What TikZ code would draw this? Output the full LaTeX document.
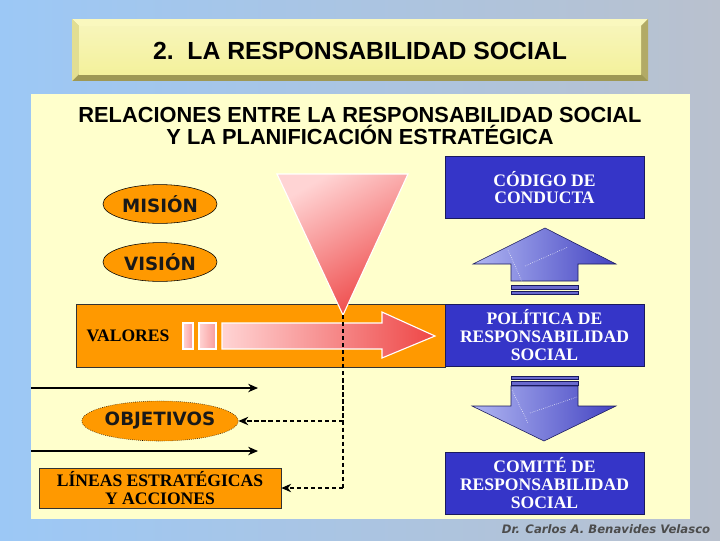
\documentclass[tikz,border=0pt]{standalone}
\usepackage{fontspec}
\setmainfont{Liberation Serif}
\setsansfont{DejaVu Sans}
\newfontfamily\headfont{Liberation Sans}
\usetikzlibrary{shapes.geometric,arrows.meta,positioning}

\definecolor{bgleft}{HTML}{9CC8F6}
\definecolor{bgright}{HTML}{B9C1CE}
\definecolor{panel}{HTML}{FFFFCC}
\definecolor{face}{HTML}{F4F19C}
\definecolor{bevlight}{HTML}{FAF8BE}
\definecolor{bevleft}{HTML}{E2DE92}
\definecolor{bevdark}{HTML}{9E9855}
\definecolor{bevright}{HTML}{B2AA66}
\definecolor{naranja}{HTML}{FF9900}
\definecolor{azul}{HTML}{3535C8}
\definecolor{azulosc}{HTML}{1A1A5E}
\definecolor{rosa}{HTML}{FFD4D4}
\definecolor{rojo}{HTML}{EE4646}
\definecolor{flechaclara}{HTML}{B0B6F2}
\definecolor{flechaosc}{HTML}{4444C2}

\tikzset{
  oval/.style={draw=black, fill=naranja, ellipse, minimum width=2.85cm, minimum height=0.97cm,
    inner sep=0pt, text=black!90, font=\sffamily\bfseries\fontsize{13}{13}\selectfont},
  bluebox/.style={draw=azulosc, fill=azul, minimum width=4.975cm, minimum height=1.56cm,
    align=center, text=white, font=\bfseries\fontsize{12.5}{12.5}\selectfont},
  orangebox/.style={draw=black!80, fill=naranja, align=center, inner sep=0pt,
    font=\bfseries\fontsize{12.5}{12.5}\selectfont},
  flowarrow/.style={thick, -{Stealth[length=7pt,width=6pt]}},
  dashline/.style={thick, dashed, dash pattern=on 3pt off 2pt},
  bluearrow/.style={left color=flechaclara, right color=flechaosc, draw=azulosc, thin},
  stripe/.style={fill=flechaosc!80, draw=azulosc, thin},
  glare/.style={white, densely dotted, thin}
}

\begin{document}
\begin{tikzpicture}[x=0.025cm, y=-0.025cm]

  % fondo y panel
  \shade[left color=bgleft, right color=bgright] (0,0) rectangle (720,540);
  \useasboundingbox (0,0) rectangle (720,540);
  \fill[panel] (31,94) rectangle (690,519);

  % caja del titulo con bisel
  \fill[bevdark] (72,19) rectangle (648,81);
  \fill[bevlight] (72,19) -- (648,19) -- (641,26) -- (79,26) -- cycle;
  \fill[bevleft] (72,19) -- (79,26) -- (79,74) -- (72,81) -- cycle;
  \fill[bevright] (648,19) -- (648,81) -- (641,74) -- (641,26) -- cycle;
  \shade[top color=face!70!white, bottom color=face] (79,26) rectangle (641,74);
  \node[font=\headfont\bfseries\fontsize{17.6}{17.6}\selectfont] (titulo) at (360,51)
    {2.\ \ LA RESPONSABILIDAD SOCIAL};

  \node[align=center, font=\headfont\bfseries\fontsize{15.5}{15}\selectfont] (cabecera) at (360,126)
    {RELACIONES ENTRE LA RESPONSABILIDAD SOCIAL\\Y LA PLANIFICACIÓN ESTRATÉGICA};

  % banda de valores
  \node[orangebox, minimum width=9.225cm, minimum height=1.575cm] (banda) at (260.5,335.5) {};
  \node[font=\bfseries\fontsize{12.5}{12.5}\selectfont] (valores) at (128,336) {VALORES};
  \shade[left color=rosa, right color=rosa!60!rojo, draw=white, thick] (183,323) rectangle (193,349);
  \shade[left color=rosa, right color=rosa!60!rojo, draw=white, thick] (199,323) rectangle (216,349);
  \shade[left color=rosa, right color=rojo, draw=white, thick]
    (222,323) -- (382,323) -- (382,312) -- (435,336) -- (382,358) -- (382,349) -- (222,349) -- cycle;

  % triangulo
  \shade[top color=rosa, bottom color=rojo, shading angle=30, draw=white, thick]
    (277,174) -- (408,174) -- (343,315) -- cycle;
  \coordinate (vertice) at (343,315);

  % ovalos
  \node[oval] (mision) at (160,204) {MISIÓN};
  \node[oval] (vision) at (160,262) {VISIÓN};
  \node[oval, densely dotted, minimum width=3.55cm, minimum height=1cm] (objetivos) at (160,421) {OBJETIVOS};

  \node[orangebox, minimum width=6.05cm, minimum height=1cm] (lineas) at (160,488)
    {LÍNEAS ESTRATÉGICAS\\Y ACCIONES};

  % flechas solidas
  \coordinate (ini1) at (31,388);
  \coordinate (fin1) at (258,388);
  \coordinate (ini2) at (31,451);
  \coordinate (fin2) at (258,451);
  \draw[flowarrow] (ini1) -- (fin1);
  \draw[flowarrow] (ini2) -- (fin2);

  % lineas discontinuas
  \coordinate (codo) at (343,488);
  \draw[dashline] (vertice) -- (codo);
  \draw[dashline, -{Stealth[length=7pt,width=6pt]}] (vertice |- objetivos.east) -- (objetivos.east);
  \draw[dashline, -{Stealth[length=7pt,width=6pt]}] (codo) -- (lineas.east);

  % cajas azules
  \node[bluebox] (codigo) at (544.5,187.5) {CÓDIGO DE\\CONDUCTA};
  \node[bluebox] (politica) at (544.5,335) {POLÍTICA DE\\RESPONSABILIDAD\\SOCIAL};
  \node[bluebox] (comite) at (544.5,483) {COMITÉ DE\\RESPONSABILIDAD\\SOCIAL};

  % flecha hacia arriba
  \shade[bluearrow] (511,281) -- (511,264) -- (473,264) -- (545,228) -- (616,264)
    -- (578,264) -- (578,281) -- cycle;
  \draw[glare] (508,250) -- (527,293);
  \draw[glare] (525,266) -- (568,247);
  \filldraw[stripe] (511,285) rectangle (578,289);
  \filldraw[stripe] (511,291) rectangle (578,294);

  % flecha hacia abajo
  \filldraw[stripe] (511,376) rectangle (578,379);
  \filldraw[stripe] (511,381) rectangle (578,385);
  \shade[bluearrow] (511,386) -- (578,386) -- (578,406) -- (616,406) -- (544,441)
    -- (472,406) -- (511,406) -- cycle;
  \draw[glare] (512,390) -- (528,423);
  \draw[glare] (530,413) -- (577,397);

  \node[text=black!70, font=\sffamily\bfseries\itshape\fontsize{8.3}{8.3}\selectfont] (autor) at (606,529)
    {Dr. Carlos A. Benavides Velasco};

\end{tikzpicture}
\end{document}
